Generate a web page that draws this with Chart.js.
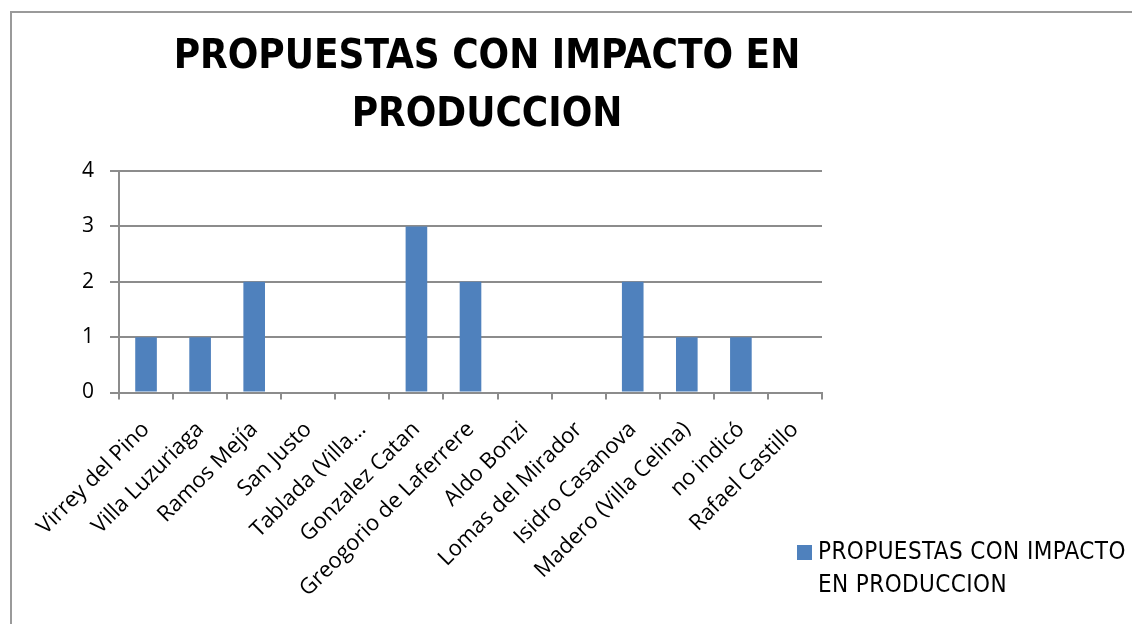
<!DOCTYPE html>
<html>
<head>
<meta charset="utf-8">
<script src="https://cdn.jsdelivr.net/npm/chart.js@4.4.0/dist/chart.umd.min.js"></script>
<style>
  html, body { margin: 0; padding: 0; background: #fff; overflow: hidden; }
  #wrap { position: relative; width: 1132px; height: 624px; }
  #frame { position: absolute; left: 10px; top: 11px; width: 1300px; height: 800px;
           border: 2px solid #9a9a9a; box-sizing: border-box; }
  #myChart { position: absolute; left: 0; top: 0; }
  #legend { position: absolute; left: 797px; top: 535px; width: 340px; white-space: nowrap;
            font-family: "DejaVu Sans Condensed", "Liberation Sans Narrow", sans-serif;
            font-size: 24px; letter-spacing: 0.4px; line-height: 33px; color: #000; }
  #legend .box { position: absolute; left: 0; top: 10px; width: 15px; height: 15px; background: #4F81BD; }
  #legend .txt { margin-left: 21px; }
</style>
</head>
<body>
<div id="wrap">
  <div id="frame"></div>
  <canvas id="myChart" width="1132" height="624"></canvas>
  <div id="legend"><span class="box"></span><div class="txt" id="legendText"></div></div>
</div>
<script>
// data
var categories = ["Virrey del Pino", "Villa Luzuriaga", "Ramos Mejía", "San Justo", "Tablada (Villa…",
  "Gonzalez Catan", "Greogorio de Laferrere", "Aldo Bonzi", "Lomas del Mirador", "Isidro Casanova",
  "Madero (Villa Celina)", "no indicó", "Rafael Castillo"];
var values = [1, 1, 2, 0, 0, 3, 2, 0, 0, 2, 1, 1, 0];
var yTicks = [0, 1, 2, 3, 4];
var seriesName = "PROPUESTAS CON IMPACTO EN PRODUCCION";
var titleLines = ["PROPUESTAS CON IMPACTO EN", "PRODUCCION"];
var legendLines = ["PROPUESTAS CON IMPACTO", "EN PRODUCCION"];

document.getElementById("legendText").innerHTML = legendLines.join("<br>");

// move the title so it sits where excel put it
var titleShift = {
  id: "titleShift",
  afterLayout: function (chart) {
    var t = chart.titleBlock;
    var w = t.right - t.left;
    t.left = 487 - w / 2;
    t.right = 487 + w / 2;
  }
};

var ctx = document.getElementById("myChart").getContext("2d");
var myChart = new Chart(ctx, {
  type: "bar",
  data: {
    labels: categories,
    datasets: [
      {
        label: seriesName,
        data: values,
        backgroundColor: "#4F81BD",
        categoryPercentage: 1,
        barPercentage: 0.4,
      },
    ],
  },
  options: {
    responsive: false,
    animation: false,
    layout: { padding: { left: 20, right: 310, top: 17, bottom: 5 } },
    plugins: {
      legend: { display: false },
      tooltip: { enabled: false },
      title: {
        display: true,
        text: titleLines,
        color: "#000",
        font: { family: "'DejaVu Sans Condensed', 'Liberation Sans Narrow', sans-serif", size: 40, weight: "bold", lineHeight: "58px" },
        padding: { top: 12, bottom: 26 },
      },
    },
    scales: {
      x: {
        grid: { display: true, drawOnChartArea: false, drawTicks: true, tickLength: 7, color: "#8c8c8c", lineWidth: 2, offset: true },
        border: { display: true, color: "#8c8c8c", width: 2 },
        ticks: {
          color: "#000",
          font: { family: "'Open Sans', sans-serif", size: 22 },
          minRotation: 45,
          maxRotation: 45,
          autoSkip: false,
          padding: 17,
        },
      },
      y: {
        min: 0,
        max: 4,
        afterFit: function (scale) { scale.width = 99; },
        afterBuildTicks: function (scale) { scale.ticks = yTicks.map(function (v) { return { value: v }; }); },
        grid: { color: "#8c8c8c", lineWidth: 2, tickLength: 9 },
        border: { display: true, color: "#8c8c8c", width: 2 },
        ticks: {
          color: "#000",
          font: { family: "'Open Sans', sans-serif", size: 21 },
          padding: 16,
        },
      },
    },
  },
  plugins: [titleShift],
});
</script>
</body>
</html>
